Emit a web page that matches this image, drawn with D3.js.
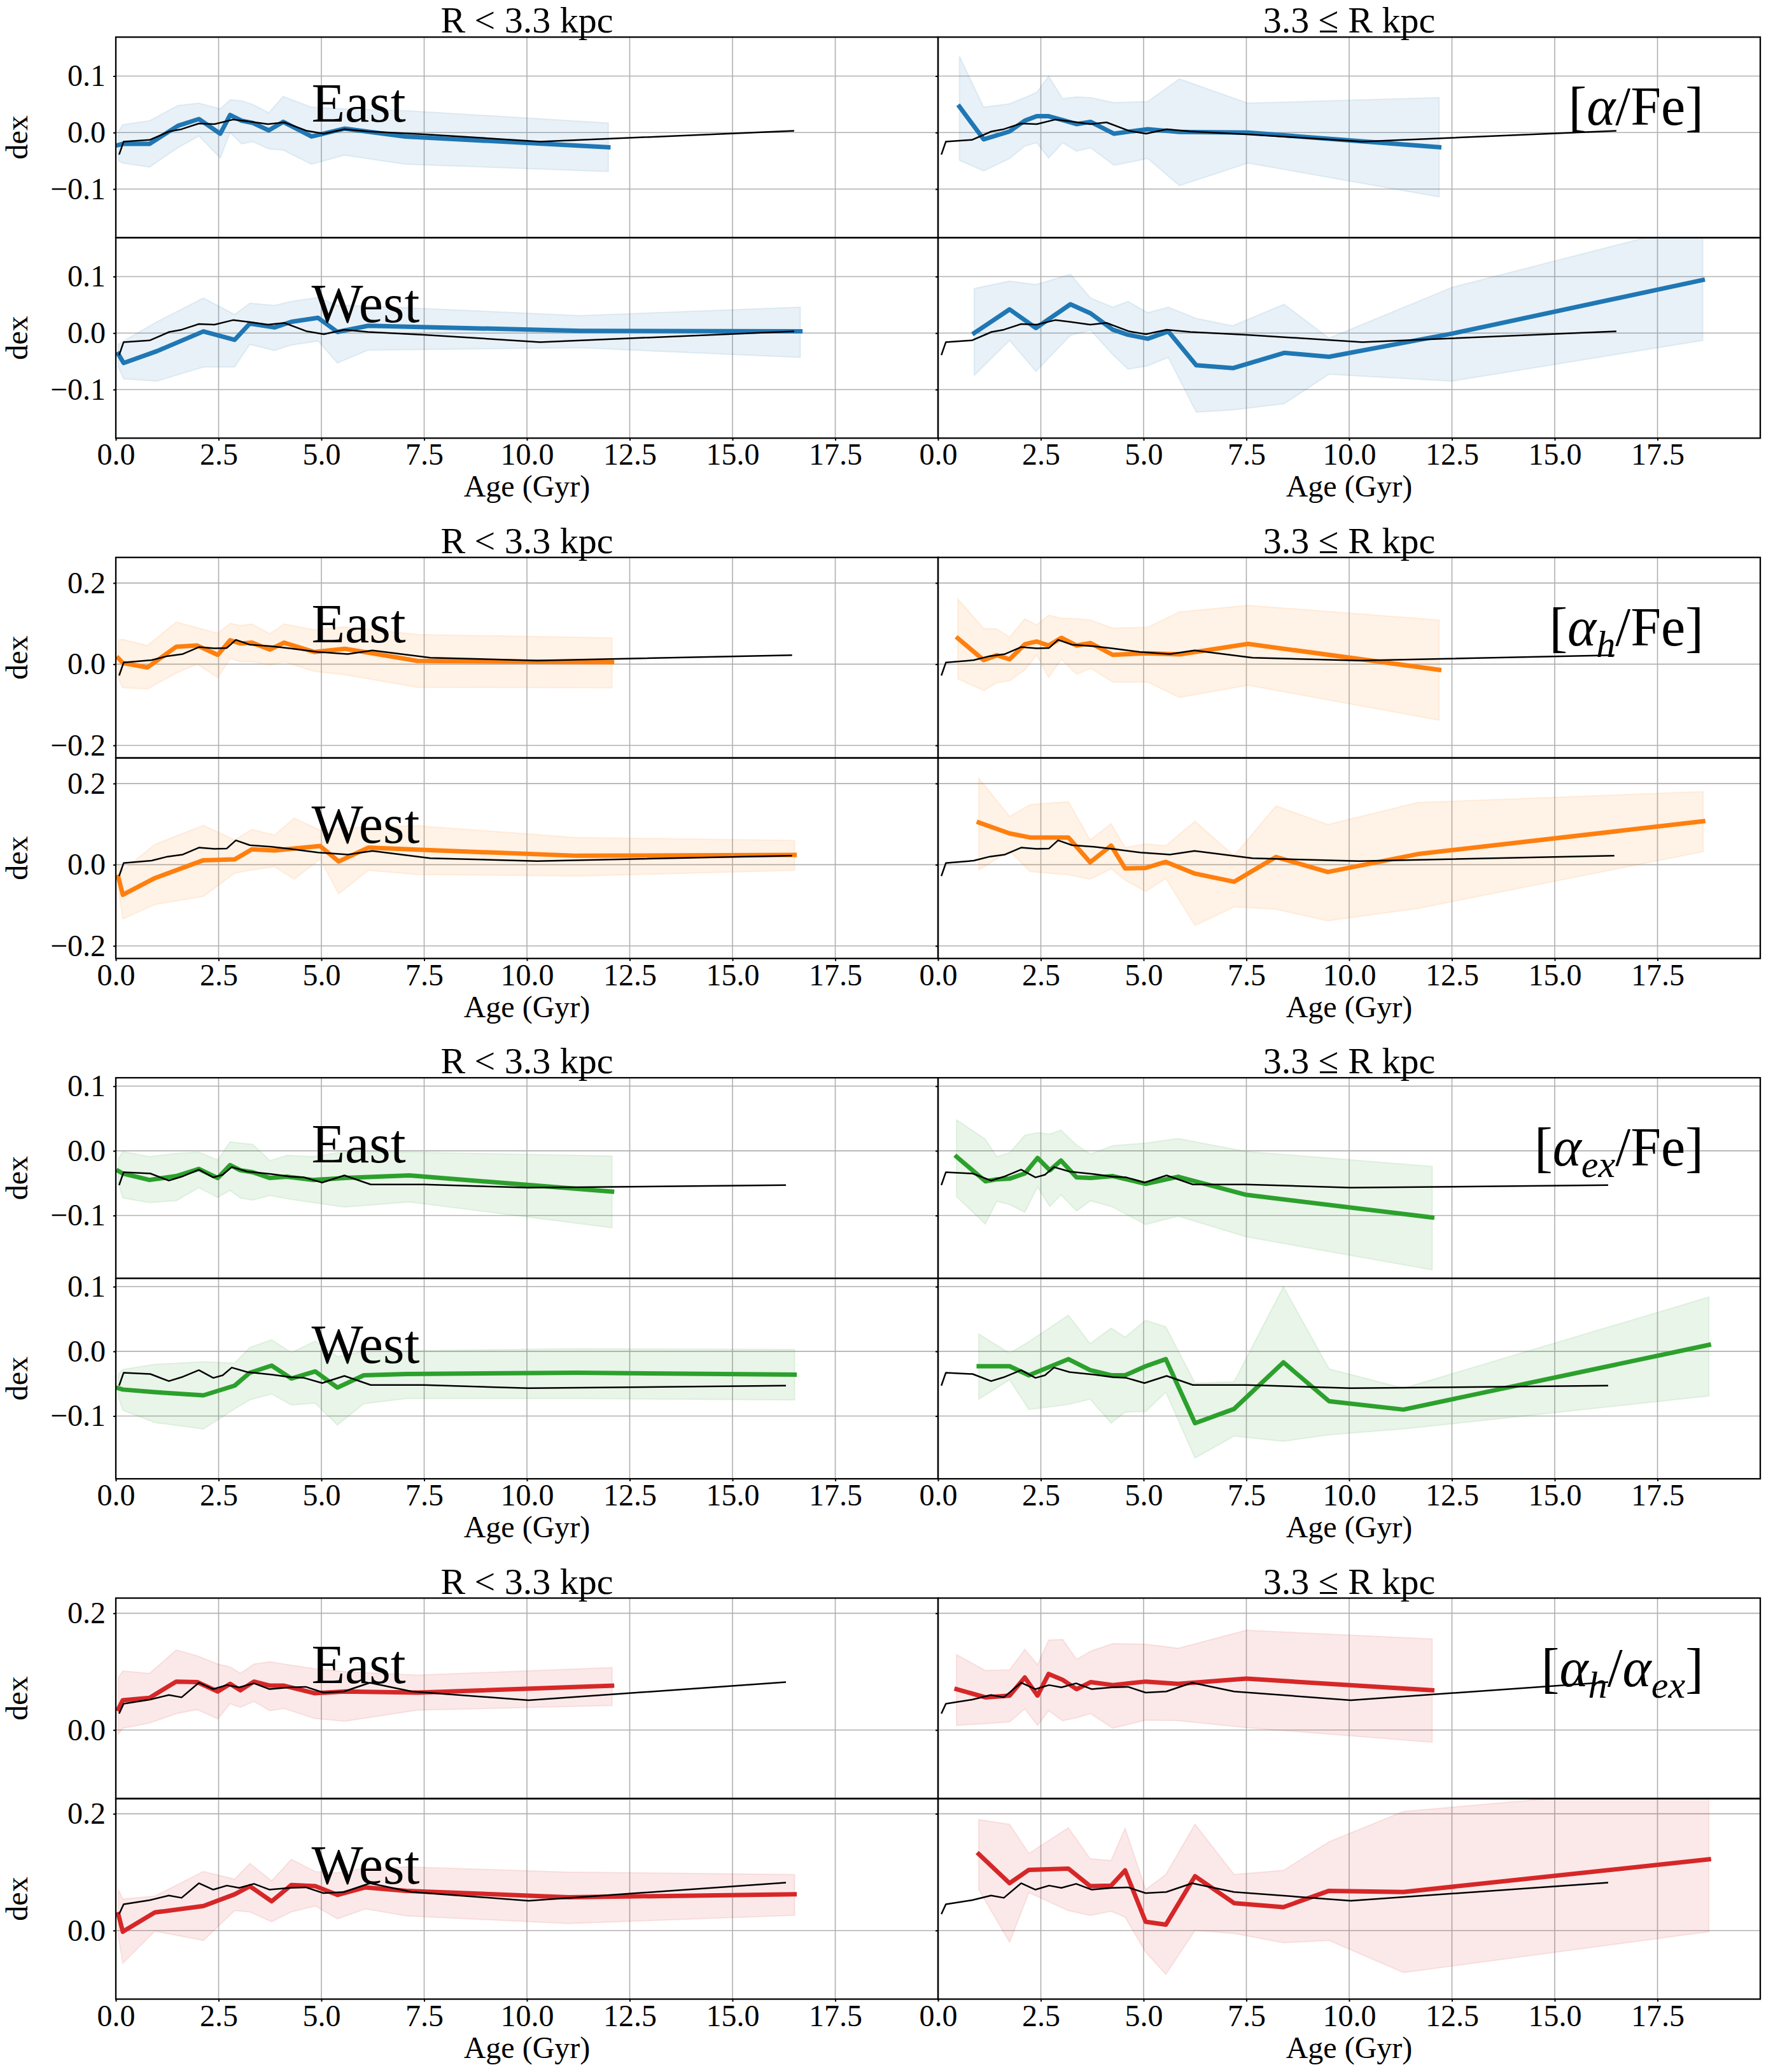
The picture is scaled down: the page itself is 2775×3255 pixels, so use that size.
<!DOCTYPE html>
<html>
<head>
<meta charset="utf-8">
<script src="https://cdn.jsdelivr.net/npm/d3@7"></script>
<style>
  body { margin: 0; background: #fff; }
  text { font-family: "Liberation Serif", "DejaVu Serif", serif; fill: #000; }
</style>
</head>
<body>
<svg id="chart" width="2775" height="3255"></svg>
<script>
// ---- data: [age (Gyr), median, lower, upper] per panel ----
// reference (all stars) curve, one per abundance ratio
let refAgeAFe = [0.08, 0.19, 0.82, 1.3, 1.6, 2.02, 2.4, 2.85, 3.2, 3.7, 4.1, 4.65, 5.06, 5.56, 6.14, 7.5, 10.32, 16.5];
let refValAFe = [-0.039, -0.016, -0.013, 0.002, 0.006, 0.016, 0.015, 0.023, 0.020, 0.015, 0.018, 0.003, -0.002, 0.006, 0.002, -0.003, -0.016, 0.003];

let refAgeAhFe = [0.08, 0.19, 0.87, 1.26, 1.63, 2.02, 2.4, 2.7, 2.92, 3.26, 3.79, 4.23, 4.92, 5.64, 6.24, 7.65, 10.25, 16.45];
let refValAhFe = [-0.028, 0.004, 0.010, 0.020, 0.025, 0.042, 0.039, 0.040, 0.060, 0.048, 0.044, 0.039, 0.030, 0.025, 0.034, 0.016, 0.009, 0.022];

let refAgeAexFe = [0.08, 0.19, 0.84, 1.29, 1.6, 2.02, 2.37, 2.6, 2.82, 3.2, 3.8, 4.25, 4.58, 5.02, 5.56, 6.2, 7.5, 10.04, 16.3];
let refValAexFe = [-0.053, -0.033, -0.035, -0.046, -0.040, -0.029, -0.041, -0.037, -0.025, -0.032, -0.036, -0.040, -0.041, -0.049, -0.038, -0.052, -0.052, -0.057, -0.053];

let refAgeAhAex = [0.08, 0.19, 0.83, 1.29, 1.6, 2.02, 2.37, 2.7, 3.0, 3.36, 3.74, 4.23, 4.62, 5.05, 5.55, 6.18, 7.2, 10.04, 16.3];
let refValAhAex = [0.028, 0.045, 0.052, 0.060, 0.056, 0.081, 0.070, 0.077, 0.073, 0.080, 0.070, 0.073, 0.074, 0.064, 0.066, 0.081, 0.066, 0.051, 0.082];

// [alpha/Fe]
let aFeInnerEast = [[0.06,-0.022,-0.050,0.002],[0.17,-0.020,-0.054,0.014],[0.82,-0.020,-0.061,0.021],[1.51,0.012,-0.027,0.048],[2.02,0.024,-0.006,0.052],[2.54,-0.002,-0.045,0.042],[2.78,0.031,0.000,0.058],[3.06,0.021,-0.020,0.056],[3.33,0.017,-0.016,0.050],[3.72,0.004,-0.029,0.035],[4.07,0.019,-0.031,0.064],[4.76,-0.007,-0.056,0.045],[5.56,0.007,-0.040,0.042],[7.04,-0.007,-0.056,0.039],[11.98,-0.026,-0.069,0.017]];
let aFeInnerWest = [[0.06,-0.037,-0.060,-0.020],[0.19,-0.053,-0.081,-0.014],[1.0,-0.032,-0.085,0.020],[2.13,0.003,-0.060,0.062],[2.89,-0.012,-0.060,0.033],[3.26,0.017,-0.020,0.053],[3.86,0.010,-0.031,0.049],[4.27,0.020,-0.021,0.056],[4.92,0.027,-0.014,0.063],[5.39,0.002,-0.053,0.049],[6.14,0.013,-0.030,0.048],[11.29,0.004,-0.026,0.031],[16.65,0.003,-0.043,0.046]];
let aFeOuterEast = [[0.52,0.046,-0.049,0.135],[1.11,-0.012,-0.068,0.045],[1.74,0.002,-0.046,0.051],[2.11,0.021,-0.024,0.062],[2.40,0.029,-0.018,0.071],[2.69,0.029,-0.045,0.100],[3.03,0.022,-0.018,0.060],[3.37,0.015,-0.033,0.063],[3.71,0.019,-0.027,0.062],[4.28,-0.002,-0.058,0.053],[5.10,0.006,-0.046,0.055],[5.87,0.001,-0.094,0.095],[7.54,0.000,-0.054,0.052],[12.19,-0.026,-0.114,0.062]];
let aFeOuterWest = [[0.88,0.000,-0.075,0.079],[1.74,0.042,-0.013,0.092],[2.38,0.009,-0.068,0.086],[3.22,0.051,-0.004,0.104],[3.71,0.035,0.005,0.062],[4.25,0.006,-0.038,0.046],[4.62,-0.003,-0.064,0.056],[5.10,-0.010,-0.058,0.036],[5.60,0.003,-0.043,0.046],[6.28,-0.057,-0.140,0.026],[7.17,-0.062,-0.136,0.013],[8.42,-0.035,-0.125,0.051],[9.51,-0.042,-0.073,-0.009],[12.5,-0.001,-0.085,0.081],[18.6,0.094,-0.013,0.195]];

// [alpha_h/Fe]
let ahFeInnerEast = [[0.06,0.015,-0.035,0.060],[0.17,0.003,-0.058,0.061],[0.77,-0.008,-0.061,0.046],[1.47,0.043,-0.022,0.104],[1.98,0.046,0.000,0.090],[2.48,0.023,-0.033,0.076],[2.78,0.059,0.014,0.101],[3.03,0.051,0.006,0.095],[3.31,0.053,0.006,0.099],[3.75,0.036,-0.002,0.075],[4.09,0.053,0.006,0.099],[4.83,0.030,-0.018,0.085],[5.57,0.038,-0.026,0.092],[7.34,0.008,-0.057,0.073],[12.07,0.005,-0.058,0.065]];
let ahFeInnerWest = [[0.06,-0.030,-0.060,0.000],[0.17,-0.074,-0.134,-0.014],[0.95,-0.033,-0.098,0.050],[2.13,0.011,-0.078,0.097],[2.89,0.013,-0.021,0.061],[3.31,0.038,-0.013,0.087],[3.86,0.035,-0.005,0.073],[4.34,0.040,-0.036,0.115],[4.97,0.046,0.014,0.085],[5.42,0.008,-0.072,0.089],[6.14,0.042,-0.014,0.093],[7.34,0.037,-0.024,0.096],[11.22,0.022,-0.028,0.067],[16.51,0.024,-0.014,0.060]];
let ahFeOuterEast = [[0.48,0.064,-0.036,0.161],[1.11,0.010,-0.065,0.088],[1.43,0.022,-0.046,0.087],[1.74,0.012,-0.041,0.067],[2.11,0.049,-0.014,0.112],[2.40,0.056,0.022,0.097],[2.69,0.046,-0.033,0.121],[3.00,0.065,0.012,0.113],[3.37,0.046,-0.025,0.112],[3.71,0.052,-0.010,0.109],[4.25,0.023,-0.044,0.089],[5.10,0.027,-0.044,0.091],[5.87,0.024,-0.082,0.129],[7.54,0.050,-0.052,0.145],[12.19,-0.014,-0.138,0.109]];
let ahFeOuterWest = [[0.99,0.104,-0.013,0.213],[1.74,0.077,0.034,0.119],[2.24,0.067,-0.017,0.148],[3.17,0.067,-0.025,0.155],[3.70,0.006,-0.036,0.061],[4.21,0.047,-0.010,0.101],[4.55,-0.009,-0.038,0.042],[5.05,-0.008,-0.066,0.051],[5.54,0.007,-0.034,0.047],[6.25,-0.022,-0.150,0.107],[7.20,-0.042,-0.104,0.022],[8.22,0.019,-0.110,0.145],[9.48,-0.018,-0.138,0.099],[11.66,0.026,-0.108,0.153],[18.61,0.107,0.032,0.180]];

// [alpha_ex/Fe]
let aexFeInnerEast = [[0.06,-0.031,-0.050,-0.012],[0.17,-0.035,-0.073,-0.001],[0.82,-0.045,-0.080,-0.009],[1.47,-0.039,-0.077,-0.004],[2.02,-0.028,-0.057,-0.002],[2.48,-0.042,-0.072,-0.014],[2.78,-0.022,-0.061,0.014],[3.03,-0.030,-0.073,0.012],[3.33,-0.033,-0.076,0.010],[3.75,-0.042,-0.069,-0.015],[4.16,-0.040,-0.074,-0.007],[4.79,-0.045,-0.080,-0.009],[5.57,-0.042,-0.087,-0.001],[7.14,-0.038,-0.079,-0.002],[12.07,-0.063,-0.119,-0.008]];
let aexFeInnerWest = [[0.06,-0.057,-0.070,-0.035],[0.17,-0.059,-0.091,-0.028],[0.95,-0.063,-0.110,-0.020],[2.13,-0.068,-0.120,-0.016],[2.89,-0.053,-0.089,-0.018],[3.26,-0.033,-0.075,0.006],[3.79,-0.022,-0.066,0.018],[4.27,-0.042,-0.083,-0.002],[4.85,-0.031,-0.080,0.016],[5.39,-0.056,-0.114,-0.008],[6.03,-0.037,-0.081,0.000],[7.07,-0.035,-0.073,0.001],[11.22,-0.033,-0.073,0.004],[16.51,-0.036,-0.075,0.003]];
let aexFeOuterEast = [[0.45,-0.009,-0.071,0.048],[1.15,-0.047,-0.113,0.018],[1.43,-0.044,-0.078,-0.009],[1.74,-0.043,-0.083,-0.003],[2.11,-0.035,-0.095,0.024],[2.42,-0.011,-0.056,0.028],[2.72,-0.030,-0.086,0.026],[2.99,-0.015,-0.068,0.032],[3.37,-0.041,-0.093,0.009],[3.71,-0.042,-0.077,-0.005],[4.25,-0.039,-0.087,0.008],[5.05,-0.051,-0.114,0.012],[5.84,-0.040,-0.101,0.019],[7.50,-0.068,-0.133,-0.001],[12.02,-0.103,-0.184,-0.024]];
let aexFeOuterWest = [[0.99,-0.023,-0.074,0.027],[1.74,-0.023,-0.044,-0.003],[2.21,-0.037,-0.090,0.015],[3.17,-0.012,-0.082,0.056],[3.70,-0.029,-0.074,0.012],[4.21,-0.037,-0.111,0.036],[4.55,-0.037,-0.094,0.022],[5.05,-0.023,-0.093,0.048],[5.54,-0.012,-0.063,0.038],[6.25,-0.111,-0.165,-0.049],[7.20,-0.089,-0.131,-0.047],[8.40,-0.017,-0.139,0.100],[9.51,-0.077,-0.129,-0.027],[11.32,-0.090,-0.120,-0.057],[18.75,0.010,-0.069,0.084]];

// [alpha_h/alpha_ex]
let ahAexInnerEast = [[0.06,0.036,-0.007,0.090],[0.17,0.051,0.003,0.101],[0.82,0.055,0.012,0.097],[1.47,0.083,0.028,0.137],[1.98,0.082,0.035,0.127],[2.48,0.066,0.019,0.113],[2.78,0.079,0.045,0.108],[3.03,0.068,0.039,0.097],[3.36,0.083,0.049,0.113],[3.75,0.076,0.033,0.117],[4.09,0.076,0.037,0.113],[4.83,0.063,0.020,0.105],[5.57,0.066,0.015,0.100],[7.34,0.064,0.034,0.094],[12.07,0.076,0.042,0.107]];
let ahAexInnerWest = [[0.06,0.028,-0.010,0.070],[0.17,-0.002,-0.056,0.054],[0.95,0.031,-0.001,0.059],[2.13,0.042,-0.017,0.101],[2.89,0.062,0.034,0.088],[3.26,0.076,0.032,0.115],[3.79,0.050,0.015,0.085],[4.27,0.078,0.032,0.122],[4.85,0.076,0.042,0.101],[5.39,0.061,0.020,0.099],[6.07,0.074,0.037,0.107],[7.07,0.068,0.025,0.109],[11.01,0.057,0.012,0.100],[16.51,0.062,0.026,0.096]];
let ahAexOuterEast = [[0.45,0.070,0.008,0.129],[1.15,0.056,0.011,0.102],[1.74,0.059,0.014,0.103],[2.11,0.090,0.036,0.138],[2.42,0.059,0.008,0.112],[2.69,0.096,0.033,0.154],[3.03,0.086,0.016,0.155],[3.37,0.070,0.021,0.121],[3.71,0.082,0.028,0.135],[4.25,0.077,0.003,0.148],[5.05,0.083,0.017,0.147],[5.84,0.079,0.016,0.140],[7.50,0.088,0.004,0.171],[12.02,0.068,-0.021,0.156]];
let ahAexOuterWest = [[0.99,0.131,0.070,0.190],[1.74,0.081,-0.020,0.182],[2.21,0.104,0.065,0.132],[3.17,0.106,0.034,0.176],[3.70,0.076,0.026,0.123],[4.21,0.077,0.033,0.120],[4.55,0.103,0.023,0.175],[5.05,0.015,-0.037,0.070],[5.54,0.010,-0.075,0.096],[6.25,0.093,0.000,0.182],[7.20,0.047,-0.005,0.096],[8.40,0.040,-0.021,0.103],[9.51,0.068,-0.017,0.152],[11.32,0.066,-0.072,0.204],[18.75,0.122,-0.002,0.250]];

// axis settings
let xTicks = [0, 2.5, 5, 7.5, 10, 12.5, 15, 17.5];
let colTitles = ["R < 3.3 kpc", "3.3 \u2264 R kpc"];
let rowLabels = ["East", "West"];

// ---- build the groups ----
let groups = [
    { color: "#1f77b4", ylim: [-0.186, 0.169], yTicks: [-0.1, 0, 0.1],
      ref: d3.zip(refAgeAFe, refValAFe),
      panels: [[aFeInnerEast, aFeOuterEast], [aFeInnerWest, aFeOuterWest]],
      label: [["[", ""], ["\u03b1", "i"], ["/Fe]", ""]] },
    { color: "#ff7f0e", ylim: [-0.231, 0.263], yTicks: [-0.2, 0, 0.2],
      ref: d3.zip(refAgeAhFe, refValAhFe),
      panels: [[ahFeInnerEast, ahFeOuterEast], [ahFeInnerWest, ahFeOuterWest]],
      label: [["[", ""], ["\u03b1", "i"], ["h", "s"], ["/Fe]", ""]] },
    { color: "#2ca02c", ylim: [-0.197, 0.113], yTicks: [-0.1, 0, 0.1],
      ref: d3.zip(refAgeAexFe, refValAexFe),
      panels: [[aexFeInnerEast, aexFeOuterEast], [aexFeInnerWest, aexFeOuterWest]],
      label: [["[", ""], ["\u03b1", "i"], ["ex", "s"], ["/Fe]", ""]] },
    { color: "#d62728", ylim: [-0.1175, 0.226], yTicks: [0, 0.2],
      ref: d3.zip(refAgeAhAex, refValAhAex),
      panels: [[ahAexInnerEast, ahAexOuterEast], [ahAexInnerWest, ahAexOuterWest]],
      label: [["[", ""], ["\u03b1", "i"], ["h", "s"], ["/", ""], ["\u03b1", "i"], ["ex", "s"], ["]", ""]] }
];

// ---- layout ----
const svg = d3.select("#chart");
const colX = [182, 1474];
const panelW = 1292, panelH = 315;
const firstTop = 58.3, groupStep = 817.4;
const tickFont = 48, titleFont = 58, bigFont = 86;

svg.append("rect").attr("width", 2775).attr("height", 3255).attr("fill", "#fff");

let clipId = 0;

function addPanel(grp, gi, row, col) {
    let top = firstTop + gi * groupStep + row * panelH;
    let x0 = colX[col];
    let data = grp.panels[row][col];

    let x = d3.scaleLinear().domain([0, 20]).range([x0, x0 + panelW]);
    let y = d3.scaleLinear().domain(grp.ylim).range([top + panelH, top]);

    let g = svg.append("g");
    let id = "clip" + (clipId++);
    g.append("clipPath").attr("id", id)
        .append("rect").attr("x", x0).attr("y", top).attr("width", panelW).attr("height", panelH);

    // grid
    g.selectAll(".gx").data(xTicks).enter().append("line")
        .attr("x1", d => x(d)).attr("x2", d => x(d))
        .attr("y1", top).attr("y2", top + panelH)
        .attr("stroke", "#b0b0b0").attr("stroke-width", 1.6);
    g.selectAll(".gy").data(grp.yTicks).enter().append("line")
        .attr("x1", x0).attr("x2", x0 + panelW)
        .attr("y1", d => y(d)).attr("y2", d => y(d))
        .attr("stroke", "#b0b0b0").attr("stroke-width", 1.6);

    let plot = g.append("g").attr("clip-path", "url(#" + id + ")");

    // spread band
    let area = d3.area().x(d => x(d[0])).y0(d => y(d[2])).y1(d => y(d[3]));
    plot.append("path").datum(data)
        .attr("d", area)
        .attr("fill", grp.color).attr("fill-opacity", 0.1)
        .attr("stroke", grp.color).attr("stroke-opacity", 0.1).attr("stroke-width", 2);

    // median line
    let line = d3.line().x(d => x(d[0])).y(d => y(d[1]));
    plot.append("path").datum(data)
        .attr("d", line)
        .attr("fill", "none").attr("stroke", grp.color).attr("stroke-width", 7)
        .attr("stroke-linejoin", "round").attr("stroke-linecap", "square");

    // reference line
    let refLine = d3.line().x(d => x(d[0])).y(d => y(d[1]));
    plot.append("path").datum(grp.ref)
        .attr("d", refLine)
        .attr("fill", "none").attr("stroke", "#000").attr("stroke-width", 2.5)
        .attr("stroke-linejoin", "round");

    // y axis (labels only on left column)
    let yAxis = d3.axisLeft(y).tickValues(grp.yTicks).tickSize(4).tickPadding(12)
        .tickFormat(col == 0 ? d3.format(".1f") : "");
    let ya = g.append("g").attr("transform", "translate(" + x0 + ",0)").call(yAxis);
    ya.select(".domain").remove();
    ya.selectAll(".tick line").attr("stroke-width", 2);
    ya.selectAll("text").attr("font-size", tickFont).attr("font-family", "Liberation Serif, serif");

    // x axis on bottom row
    if (row == 1) {
        let xAxis = d3.axisBottom(x).tickValues(xTicks).tickSize(4).tickPadding(4)
            .tickFormat(d3.format(".1f"));
        let xa = g.append("g").attr("transform", "translate(0," + (top + panelH) + ")").call(xAxis);
        xa.select(".domain").remove();
        xa.selectAll(".tick line").attr("stroke-width", 2);
        xa.selectAll("text").attr("font-size", tickFont).attr("font-family", "Liberation Serif, serif");
    }

    // frame
    g.append("rect").attr("x", x0).attr("y", top).attr("width", panelW).attr("height", panelH)
        .attr("fill", "none").attr("stroke", "#000").attr("stroke-width", 2.3);

    // y label
    if (col == 0) {
        g.append("text")
            .attr("transform", "translate(43," + (top + panelH / 2) + ") rotate(-90)")
            .attr("text-anchor", "middle").attr("font-size", tickFont)
            .text("dex");
        g.append("text")
            .attr("x", x0 + 0.238 * panelW).attr("y", top + 133)
            .attr("font-size", bigFont)
            .text(rowLabels[row]);
    }

    // abundance label, top right panel
    if (col == 1 && row == 0) {
        let t = g.append("text")
            .attr("x", x0 + 0.931 * panelW).attr("y", top + 138)
            .attr("text-anchor", "end").attr("font-size", bigFont);
        let shifted = false;
        grp.label.forEach(p => {
            let s = t.append("tspan").text(p[0]);
            if (p[1] == "i") s.attr("font-style", "italic");
            if (p[1] == "s") {
                s.attr("font-style", "italic").attr("font-size", 0.7 * bigFont).attr("dy", 18);
                shifted = true;
            } else if (shifted) {
                s.attr("dy", -18);
                shifted = false;
            }
        });
    }
}

groups.forEach((grp, gi) => {
    for (let row = 0; row < 2; row++) {
        for (let col = 0; col < 2; col++) {
            addPanel(grp, gi, row, col);
        }
    }
    let top = firstTop + gi * groupStep;
    for (let col = 0; col < 2; col++) {
        let cx = colX[col] + panelW / 2;
        // column title
        svg.append("text").attr("x", cx).attr("y", top - 7)
            .attr("text-anchor", "middle").attr("font-size", titleFont)
            .text(colTitles[col]);
        // x axis label
        svg.append("text").attr("x", cx).attr("y", top + 2 * panelH + 92)
            .attr("text-anchor", "middle").attr("font-size", tickFont)
            .text("Age (Gyr)");
    }
});
</script>
</body>
</html>
